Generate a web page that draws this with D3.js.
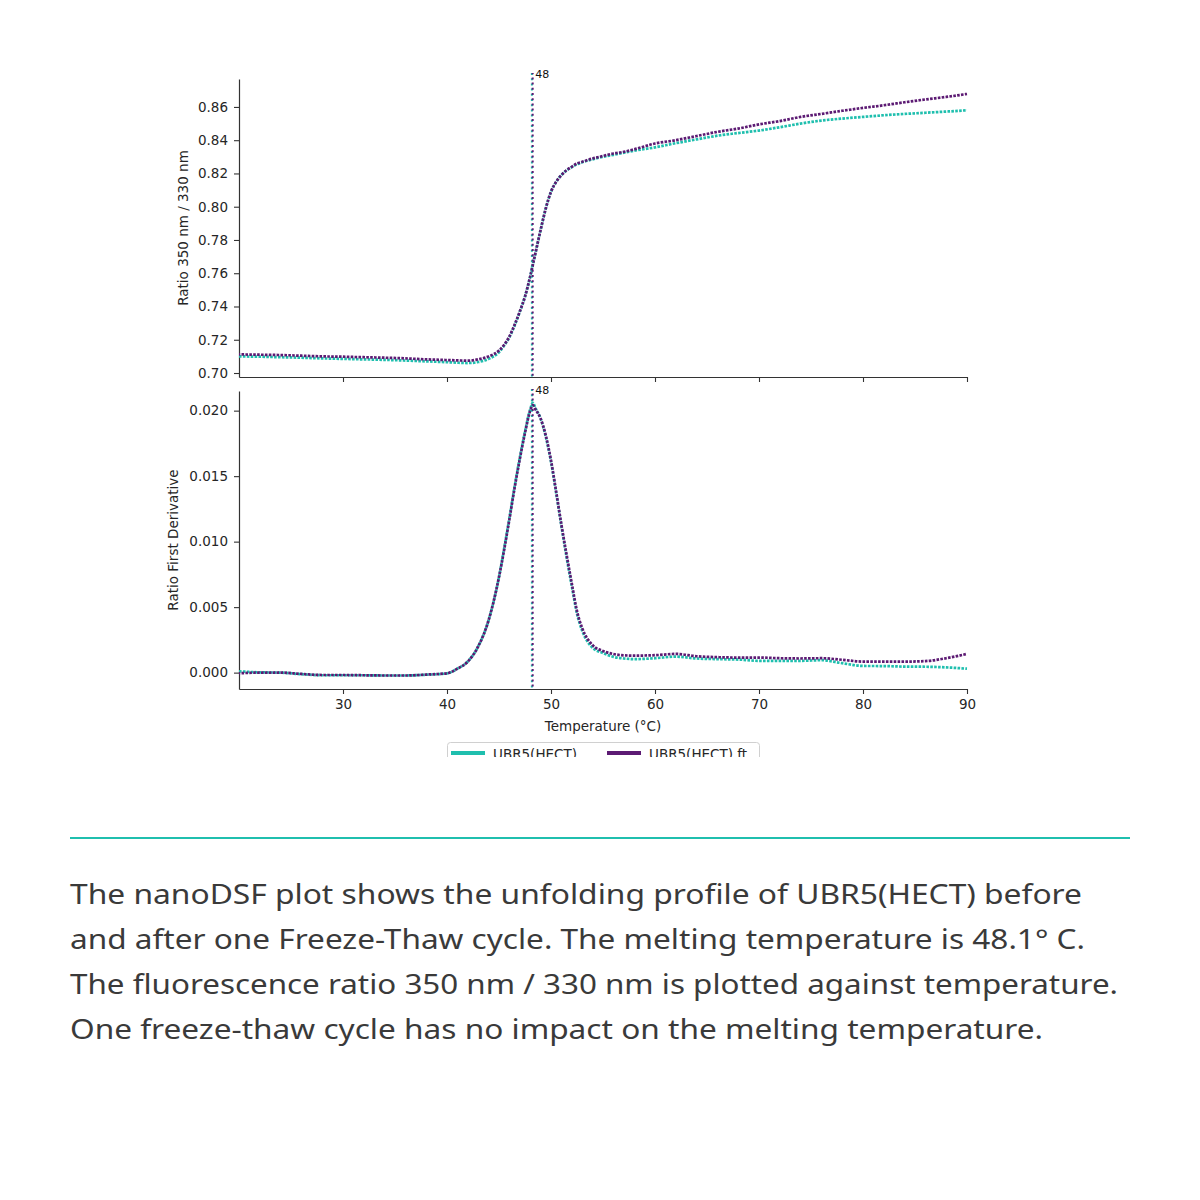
<!DOCTYPE html>
<html>
<head>
<meta charset="utf-8">
<script src="https://cdn.jsdelivr.net/npm/d3@7"></script>
<style>
  body { margin: 0; background: #fff; }
  .tick text { font-family: "DejaVu Sans", sans-serif; font-size: 13.5px; fill: #262626; }
  .axisText { font-family: "DejaVu Sans", sans-serif; font-size: 13.5px; fill: #262626; }
</style>
</head>
<body>
<div class="chart"></div>
<script>
// Data

var temps = [20, 22, 24, 26, 28, 30, 32, 34, 36, 38, 40, 41, 42, 43, 44,
    45, 45.5, 46, 46.5, 47, 47.5, 48, 48.25, 48.5, 49, 49.5, 50, 50.5, 51, 51.5, 52, 52.5, 53,
    54, 55, 56, 57, 58, 60, 62, 64, 66, 68, 70, 72, 74, 76, 78, 80, 82, 84, 86, 88, 90];

var hectRatio = [0.7100, 0.7098, 0.7095, 0.7092, 0.7088, 0.7085, 0.7082, 0.7079, 0.7075, 0.7070, 0.7065, 0.7062, 0.7060, 0.7066, 0.7085,
    0.7125, 0.7165, 0.7215, 0.7285, 0.7368, 0.7460, 0.7580, 0.7650, 0.7720, 0.7860, 0.7990, 0.8090, 0.8150, 0.8190, 0.8218, 0.8238, 0.8255, 0.8267,
    0.8285, 0.8300, 0.8312, 0.8325, 0.8337, 0.8357, 0.8382, 0.8405, 0.8427, 0.8443, 0.8458, 0.8478, 0.8500, 0.8518, 0.8530, 0.8540, 0.8550, 0.8558, 0.8565, 0.8572, 0.8580];

var ftRatio = [0.7112, 0.7110, 0.7108, 0.7104, 0.7100, 0.7098, 0.7095, 0.7092, 0.7088, 0.7082, 0.7078, 0.7076, 0.7074, 0.7082, 0.7100,
    0.7135, 0.7170, 0.7220, 0.7290, 0.7370, 0.7460, 0.7580, 0.7650, 0.7720, 0.7860, 0.7990, 0.8090, 0.8150, 0.8190, 0.8220, 0.8240, 0.8260, 0.8270,
    0.8290, 0.8305, 0.8320, 0.8330, 0.8345, 0.8380, 0.8400, 0.8425, 0.8450, 0.8470, 0.8495, 0.8515, 0.8540, 0.8558, 0.8577, 0.8594, 0.8610, 0.8628, 0.8645, 0.8660, 0.8678];

var hectDeriv = [0.0001, 0.00002, 0.0000, -0.00012, -0.0002, -0.0002, -0.0002, -0.00022, -0.00022, -0.00016, -0.00006, 0.0003, 0.00085, 0.0020, 0.0040,
    0.0073, 0.0095, 0.0118, 0.0142, 0.0164, 0.0184, 0.0201, 0.0206, 0.0202, 0.0194, 0.0180, 0.0161, 0.0137, 0.0112, 0.0088, 0.0066, 0.0045, 0.0032,
    0.0019, 0.0015, 0.0012, 0.00108, 0.00103, 0.0011, 0.00122, 0.00108, 0.00103, 0.0010, 0.0009, 0.0009, 0.0009, 0.00095, 0.00072, 0.00051, 0.0005, 0.00046, 0.00045, 0.0004, 0.0003];

var ftDeriv = [-0.00005, 0.0000, 0.0000, -0.0001, -0.00018, -0.00018, -0.0002, -0.00022, -0.00022, -0.00015, -0.00005, 0.0003, 0.00084, 0.0020, 0.0040,
    0.0073, 0.0094, 0.0117, 0.0141, 0.0163, 0.0183, 0.0200, 0.0204, 0.0201, 0.0194, 0.0181, 0.0162, 0.0138, 0.0113, 0.0090, 0.0068, 0.0047, 0.0034,
    0.0021, 0.00165, 0.00142, 0.00132, 0.0013, 0.00133, 0.00143, 0.00125, 0.00118, 0.00115, 0.00115, 0.0011, 0.00108, 0.0011, 0.00098, 0.00084, 0.00084, 0.00084, 0.00088, 0.0011, 0.00143];

var seriesNames = ["UBR5(HECT)", "UBR5(HECT) ft"];
var seriesColors = ["#1fbfae", "#5c1a73"];
var meltTemp = 48.2;
var meltLabel = "48";

var xTicks = [30, 40, 50, 60, 70, 80, 90];
var ratioTicks = [0.70, 0.72, 0.74, 0.76, 0.78, 0.80, 0.82, 0.84, 0.86];
var derivTicks = [0.000, 0.005, 0.010, 0.015, 0.020];

var captionLines = [
    "The nanoDSF plot shows the unfolding profile of UBR5(HECT) before",
    "and after one Freeze-Thaw cycle. The melting temperature is 48.1° C.",
    "The fluorescence ratio 350 nm / 330 nm is plotted against temperature.",
    "One freeze-thaw cycle has no impact on the melting temperature."
];
var captionWidths = [1012, 1015, 1048, 973];

// Set-up the plot dimensions

var svgWidth = 1200;
var svgHeight = 1200;

var plotLeft = 239;
var plotRight = 967;
var topPanel = { top: 79, bottom: 377 };
var bottomPanel = { top: 391, bottom: 689 };

var svg = d3.select(".chart")
    .append("svg")
    .attr("width", svgWidth)
    .attr("height", svgHeight)
    .style("display", "block");

svg.append("rect")
    .attr("width", svgWidth)
    .attr("height", svgHeight)
    .attr("fill", "#fff");

// Scales

var xScale = d3.scaleLinear()
    .domain([20, 90])
    .range([plotLeft, plotRight]);

var yRatio = d3.scaleLinear()
    .domain([0.6976, 0.8768])
    .range([topPanel.bottom, topPanel.top]);

var yDeriv = d3.scaleLinear()
    .domain([-0.00125, 0.0215])
    .range([bottomPanel.bottom, bottomPanel.top]);

function styleAxis(g) {
    g.select(".domain").attr("stroke", "#333").attr("stroke-width", 1.2);
    g.selectAll(".tick line").attr("stroke", "#333").attr("stroke-width", 1.1);
}

// Axes - top panel (shared x, no labels)

svg.append("g")
    .attr("transform", "translate(0," + topPanel.bottom + ")")
    .call(d3.axisBottom(xScale).tickValues(xTicks).tickFormat("").tickSize(5).tickSizeOuter(0))
    .call(styleAxis);

svg.append("g")
    .attr("transform", "translate(" + plotLeft + ",0)")
    .call(d3.axisLeft(yRatio).tickValues(ratioTicks).tickFormat(d3.format(".2f")).tickSize(5).tickPadding(6).tickSizeOuter(0))
    .call(styleAxis);

// Axes - bottom panel

svg.append("g")
    .attr("transform", "translate(0," + bottomPanel.bottom + ")")
    .call(d3.axisBottom(xScale).tickValues(xTicks).tickFormat(d3.format("d")).tickSize(5).tickPadding(5).tickSizeOuter(0))
    .call(styleAxis);

svg.append("g")
    .attr("transform", "translate(" + plotLeft + ",0)")
    .call(d3.axisLeft(yDeriv).tickValues(derivTicks).tickFormat(d3.format(".3f")).tickSize(5).tickPadding(6).tickSizeOuter(0))
    .call(styleAxis);

// Axis labels

svg.append("text")
    .attr("class", "axisText")
    .attr("transform", "translate(188," + ((topPanel.top + topPanel.bottom) / 2) + ") rotate(-90)")
    .attr("text-anchor", "middle")
    .text("Ratio 350 nm / 330 nm");

svg.append("text")
    .attr("class", "axisText")
    .attr("transform", "translate(178," + ((bottomPanel.top + bottomPanel.bottom) / 2) + ") rotate(-90)")
    .attr("text-anchor", "middle")
    .text("Ratio First Derivative");

svg.append("text")
    .attr("class", "axisText")
    .attr("x", (plotLeft + plotRight) / 2)
    .attr("y", 731)
    .attr("text-anchor", "middle")
    .text("Temperature (°C)");

// Curves

var ratioSeries = [hectRatio, ftRatio];
var derivSeries = [hectDeriv, ftDeriv];

function drawCurves(values, yScale) {
    values.forEach(function(vals, i) {
        var pts = temps.map(function(t, j) { return [t, vals[j]]; });
        var line = d3.line()
            .x(function(d) { return xScale(d[0]); })
            .y(function(d) { return yScale(d[1]); })
            .curve(d3.curveMonotoneX);
        svg.append("path")
            .datum(pts)
            .attr("d", line)
            .attr("fill", "none")
            .attr("stroke", seriesColors[i])
            .attr("stroke-width", 2.7)
            .attr("stroke-dasharray", "2.6 1.3")
            .attr("stroke-dashoffset", i * 1.4);
    });
}

drawCurves(ratioSeries, yRatio);
drawCurves(derivSeries, yDeriv);

// Melting temperature markers

[[topPanel.top - 6, topPanel.bottom], [bottomPanel.top - 2, bottomPanel.bottom]].forEach(function(span) {
    seriesColors.forEach(function(c, i) {
        svg.append("line")
            .attr("x1", xScale(meltTemp) + (i === 0 ? -0.4 : 0.4))
            .attr("x2", xScale(meltTemp) + (i === 0 ? -0.4 : 0.4))
            .attr("y1", span[0])
            .attr("y2", span[1])
            .attr("stroke", c)
            .attr("stroke-width", 2)
            .attr("stroke-dasharray", "2 3.2")
            .attr("stroke-dashoffset", i * 0.8);
    });
    svg.append("text")
        .attr("x", xScale(meltTemp) + 3)
        .attr("y", span[0] + 5)
        .attr("font-family", "DejaVu Sans, sans-serif")
        .attr("font-size", "11px")
        .attr("fill", "#111")
        .text(meltLabel);
});

// Legend (cropped at the bottom like the source image)

var clip = svg.append("clipPath").attr("id", "legendClip");
clip.append("rect").attr("x", 440).attr("y", 735).attr("width", 330).attr("height", 22);

var legend = svg.append("g").attr("clip-path", "url(#legendClip)");

legend.append("rect")
    .attr("x", 447.5)
    .attr("y", 742.5)
    .attr("width", 312)
    .attr("height", 30)
    .attr("rx", 3)
    .attr("fill", "#fff")
    .attr("stroke", "#d0d0d0");

var legendX = [451, 607];
seriesNames.forEach(function(name, i) {
    legend.append("line")
        .attr("x1", legendX[i])
        .attr("x2", legendX[i] + 34)
        .attr("y1", 753)
        .attr("y2", 753)
        .attr("stroke", seriesColors[i])
        .attr("stroke-width", 4);
    legend.append("text")
        .attr("class", "axisText")
        .attr("x", legendX[i] + 42)
        .attr("y", 759)
        .text(name);
});

// Separator and caption

svg.append("line")
    .attr("x1", 70)
    .attr("x2", 1130)
    .attr("y1", 838)
    .attr("y2", 838)
    .attr("stroke", "#1fbfae")
    .attr("stroke-width", 2);

svg.selectAll(".caption")
    .data(captionLines)
    .enter()
    .append("text")
    .attr("class", "caption")
    .attr("x", 70)
    .attr("y", function(d, i) { return 904 + i * 45; })
    .attr("font-family", "Noto Sans, sans-serif")
    .attr("font-size", "28px")
    .attr("fill", "#3a3a3a")
    .attr("textLength", function(d, i) { return captionWidths[i]; })
    .attr("lengthAdjust", "spacingAndGlyphs")
    .text(function(d) { return d; });
</script>
</body>
</html>
